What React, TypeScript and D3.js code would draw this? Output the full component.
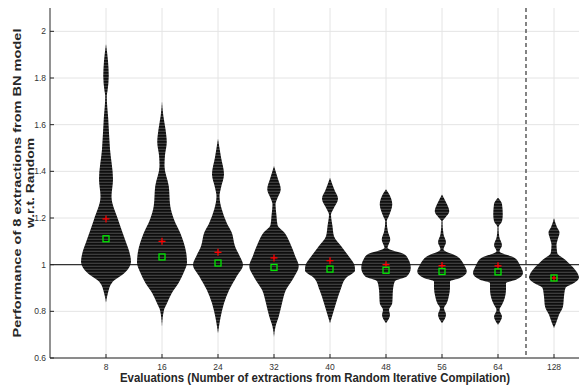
import React from 'react';
import * as d3 from 'd3';

// evaluation budgets on the x axis
const categories = ['8', '16', '24', '32', '40', '48', '56', '64', '128'];
const yTicks = [0.6, 0.8, 1, 1.2, 1.4, 1.6, 1.8, 2];

// violin outlines: [performance, relative density]
const dens8 = [[1.946, 0], [1.873, 0.08], [1.809, 0.11], [1.744, 0.06], [1.723, 0.03], [1.624, 0.09], [1.495, 0.16], [1.366, 0.28], [1.292, 0.22], [1.194, 0.48], [1.108, 0.76], [1.044, 0.96], [1.013, 1.0], [0.966, 0.76], [0.923, 0.24], [0.88, 0.08], [0.837, 0]];
const dens16 = [[1.7, 0], [1.64, 0.05], [1.58, 0.14], [1.525, 0.19], [1.47, 0.12], [1.423, 0.1], [1.337, 0.27], [1.251, 0.33], [1.194, 0.48], [1.136, 0.73], [1.05, 0.97], [1.009, 1.0], [0.966, 0.87], [0.923, 0.67], [0.88, 0.4], [0.835, 0.2], [0.806, 0.08], [0.733, 0]];
const dens24 = [[1.54, 0], [1.46, 0.12], [1.387, 0.24], [1.33, 0.12], [1.294, 0.06], [1.237, 0.15], [1.179, 0.35], [1.138, 0.55], [1.079, 0.68], [1.036, 0.87], [1.0, 1.0], [0.95, 0.75], [0.892, 0.45], [0.835, 0.24], [0.778, 0.11], [0.735, 0.04], [0.705, 0]];
const dens32 = [[1.423, 0], [1.37, 0.15], [1.323, 0.27], [1.28, 0.12], [1.258, 0.06], [1.21, 0.1], [1.17, 0.14], [1.136, 0.43], [1.093, 0.64], [1.036, 0.85], [0.993, 0.99], [0.943, 0.78], [0.892, 0.48], [0.835, 0.32], [0.778, 0.19], [0.735, 0.06], [0.69, 0]];
const dens40 = [[1.373, 0], [1.32, 0.18], [1.283, 0.32], [1.24, 0.14], [1.215, 0.04], [1.165, 0.1], [1.122, 0.16], [1.079, 0.45], [1.036, 0.75], [0.993, 0.99], [0.975, 1.0], [0.943, 0.64], [0.892, 0.42], [0.835, 0.24], [0.792, 0.12], [0.749, 0]];
const dens48 = [[1.323, 0], [1.29, 0.18], [1.258, 0.25], [1.21, 0.12], [1.186, 0.03], [1.14, 0.08], [1.108, 0.17], [1.085, 0.1], [1.072, 0.06], [1.043, 0.76], [1.022, 0.9], [0.986, 0.99], [0.95, 0.84], [0.928, 0.35], [0.892, 0.28], [0.835, 0.25], [0.806, 0.12], [0.785, 0.16], [0.749, 0]];
const dens56 = [[1.301, 0], [1.265, 0.17], [1.229, 0.29], [1.2, 0.12], [1.186, 0.02], [1.13, 0.06], [1.096, 0.16], [1.065, 0.06], [1.036, 0.6], [1.0, 0.88], [0.971, 0.99], [0.943, 0.72], [0.928, 0.32], [0.9, 0.32], [0.864, 0.27], [0.835, 0.19], [0.814, 0.08], [0.785, 0.16], [0.749, 0]];
const dens64 = [[1.287, 0], [1.26, 0.16], [1.215, 0.19], [1.186, 0.16], [1.16, 0.02], [1.12, 0.05], [1.083, 0.16], [1.058, 0.06], [1.029, 0.67], [0.993, 0.9], [0.964, 1.0], [0.935, 0.72], [0.921, 0.32], [0.892, 0.32], [0.857, 0.27], [0.828, 0.16], [0.806, 0.06], [0.778, 0.16], [0.743, 0]];
const dens128 = [[1.2, 0], [1.16, 0.12], [1.138, 0.22], [1.105, 0.14], [1.086, 0.1], [1.05, 0.13], [1.022, 0.44], [0.993, 0.72], [0.957, 0.97], [0.944, 1.0], [0.921, 0.8], [0.9, 0.46], [0.864, 0.4], [0.821, 0.36], [0.785, 0.2], [0.749, 0.08], [0.729, 0]];
const densities = [dens8, dens16, dens24, dens32, dens40, dens48, dens56, dens64, dens128];

const means = [1.196, 1.1, 1.053, 1.029, 1.017, 1.0, 0.996, 0.995, 0.943];
const medians = [1.111, 1.033, 1.007, 0.988, 0.981, 0.976, 0.971, 0.969, 0.943];

const W = 579;
const H = 389;
const left = 50;
const top = 8;
const bottom = 358;

export default function App() {
  const x = d3.scaleLinear().domain([0, 9.5]).range([left, 582]);
  const y = d3.scaleLinear().domain([0.6, 2.1]).range([bottom, top]);
  const w = d3.scaleLinear().domain([0, 1]).range([0, 25]);

  const violin = (cx: number) =>
    d3
      .area<number[]>()
      .y(d => y(d[0]))
      .x0(d => cx - w(d[1]))
      .x1(d => cx + w(d[1]))
      .curve(d3.curveMonotoneY);

  const font = 'Liberation Sans, Arial, Helvetica, sans-serif';
  const midY = (top + bottom) / 2;

  return (
    <svg width={W} height={H} style={{ position: 'absolute', left: 0, top: 0, background: '#fff' }}>
      <defs>
        <pattern id="stripes" patternUnits="userSpaceOnUse" width={8} height={3}>
          <rect width={8} height={3} fill="#3d3d3d" />
          <rect width={8} height={1.7} fill="#0e0e0e" />
        </pattern>
      </defs>

      {/* grid */}
      {yTicks.map(t => (
        <line key={'gy' + t} x1={left} x2={W} y1={y(t)} y2={y(t)} stroke="#e4e4e4" strokeWidth={1} />
      ))}
      {categories.map((c, i) => (
        <line key={'gx' + c} x1={x(i + 1)} x2={x(i + 1)} y1={top} y2={bottom} stroke="#e4e4e4" strokeWidth={1} />
      ))}

      {/* reference at 1 and split before 128 */}
      <line x1={left} x2={W} y1={y(1)} y2={y(1)} stroke="#333" strokeWidth={1.2} />
      <line x1={x(8.5)} x2={x(8.5)} y1={top} y2={bottom} stroke="#333" strokeWidth={1.2} strokeDasharray="4,3" />

      {/* violins */}
      {densities.map((d, i) => (
        <path key={'v' + i} d={violin(x(i + 1))(d as number[][]) || ''} fill="url(#stripes)" />
      ))}

      {/* means under medians */}
      {means.map((m, i) => (
        <g key={'mn' + i} stroke="#ff0000" strokeWidth={1.3}>
          <line x1={x(i + 1) - 3.5} x2={x(i + 1) + 3.5} y1={y(m)} y2={y(m)} />
          <line x1={x(i + 1)} x2={x(i + 1)} y1={y(m) - 3.5} y2={y(m) + 3.5} />
        </g>
      ))}
      {medians.map((m, i) => (
        <rect key={'md' + i} x={x(i + 1) - 3} y={y(m) - 3} width={6} height={6} fill="none" stroke="#00e600" strokeWidth={1.3} />
      ))}

      {/* axes */}
      <line x1={left} x2={left} y1={top} y2={bottom} stroke="#262626" strokeWidth={1} />
      <line x1={left} x2={W} y1={bottom} y2={bottom} stroke="#262626" strokeWidth={1} />
      {yTicks.map(t => (
        <g key={'ty' + t}>
          <line x1={left} x2={left + 4} y1={y(t)} y2={y(t)} stroke="#262626" />
          <text x={left - 4} y={y(t)} dy="0.35em" textAnchor="end" fontSize={8.5} fontFamily={font} fill="#333">
            {d3.format('')(t)}
          </text>
        </g>
      ))}
      {categories.map((c, i) => (
        <g key={'tx' + c}>
          <line x1={x(i + 1)} x2={x(i + 1)} y1={bottom} y2={bottom - 4} stroke="#262626" />
          <text x={x(i + 1)} y={370} textAnchor="middle" fontSize={8.5} fontFamily={font} fill="#333">
            {c}
          </text>
        </g>
      ))}

      {/* labels */}
      <text x={315} y={382} textAnchor="middle" fontSize={12} fontWeight="bold" fontFamily={font} fill="#262626"
        textLength={390} lengthAdjust="spacingAndGlyphs">
        Evaluations (Number of extractions from Random Iterative Compilation)
      </text>
      <g transform={`translate(21,${midY}) rotate(-90)`}>
        <text textAnchor="middle" fontSize={11.5} fontWeight="bold" fontFamily={font} fill="#262626"
          textLength={309} lengthAdjust="spacingAndGlyphs">
          Performance of 8 extractions from BN model
        </text>
      </g>
      <g transform={`translate(34,${midY}) rotate(-90)`}>
        <text textAnchor="middle" fontSize={11.5} fontWeight="bold" fontFamily={font} fill="#262626"
          textLength={90} lengthAdjust="spacingAndGlyphs">
          w.r.t. Random
        </text>
      </g>
    </svg>
  );
}
